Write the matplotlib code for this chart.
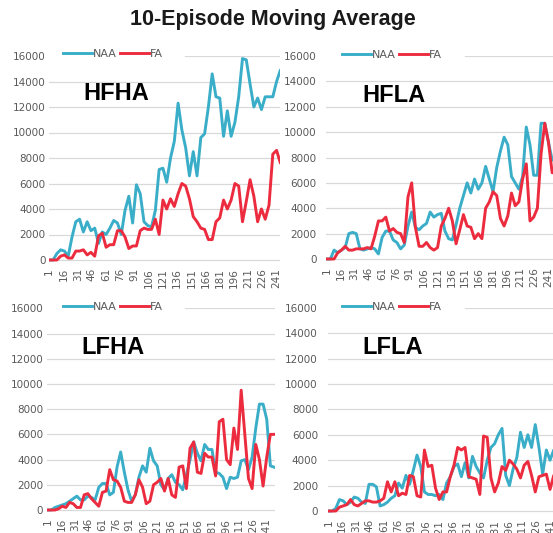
import matplotlib
matplotlib.use('Agg')
import matplotlib.pyplot as plt

# episode positions of the sampled moving-average values
episodes = list(range(1, 250, 4))

hfha_naa = [0, 0, 500, 800, 700, 300, 1800, 3000, 3200, 2200,
            3000, 2300, 2500, 1300, 2200, 2000, 2500, 3100, 2900, 2000,
            3900, 5000, 2900, 5900, 5200, 3000, 2700, 2600, 3900, 7100,
            7200, 6100, 8000, 9300, 12300, 10200, 8800, 6600, 8500, 6600,
            9600, 9900, 12000, 14600, 12800, 12700, 9700, 11700, 9700, 10800,
            12800, 15800, 15700, 13800, 12000, 12700, 11800, 12800, 12800, 12800,
            14000, 14900, 14900]
hfha_fa = [0, 0, 0, 300, 400, 150, 150, 700, 700, 800,
           400, 600, 300, 1900, 2100, 1000, 1200, 1200, 2300, 2300,
           1800, 900, 1100, 1100, 2300, 2500, 2400, 2400, 3200, 2000,
           4700, 4000, 4800, 4200, 5200, 6000, 5800, 4800, 3400, 3000,
           2500, 2400, 1600, 1600, 3000, 3300, 4700, 4000, 4700, 6000,
           5800, 3000, 4600, 6300, 5000, 3000, 4000, 3200, 4300, 8300,
           8600, 7600, 7600]

hfla_naa = [0, 0, 700, 500, 700, 900, 2000, 2100, 2000, 800,
            700, 800, 900, 800, 400, 1700, 2200, 2200, 1500, 1300,
            800, 1100, 2600, 3700, 2500, 2300, 2600, 2800, 3700, 3300,
            3500, 3600, 2200, 1600, 1500, 2700, 4000, 5000, 6000, 5200,
            6300, 5500, 6000, 7300, 6300, 5300, 7200, 8500, 9600, 9000,
            6500, 6000, 5500, 6500, 10400, 9000, 6600, 6600, 10700, 10700,
            9200, 7800, 7800]
hfla_fa = [0, 0, 0, 500, 700, 1000, 700, 700, 800, 800,
           800, 900, 800, 1800, 3000, 3000, 3300, 2200, 2400, 2100,
           2000, 1300, 4900, 6000, 2500, 1000, 1000, 1300, 900, 700,
           900, 2600, 3200, 4000, 3000, 1200, 2300, 3500, 2600, 2500,
           1600, 2000, 1600, 4000, 4500, 5300, 5000, 3200, 2600, 3400,
           5200, 4200, 4500, 6300, 7500, 3000, 3300, 4000, 8300, 10700,
           9200, 6800, 6800]

lfha_naa = [0, 0, 200, 300, 400, 500, 700, 900, 1100, 800,
            800, 1100, 1000, 800, 1800, 2100, 2100, 1200, 1400, 3400,
            4600, 3000, 1600, 700, 1200, 2600, 3500, 3000, 4900, 3900,
            3500, 2000, 1600, 2500, 2800, 2200, 2000, 1600, 2800, 4000,
            5400, 4500, 3900, 5200, 4800, 4800, 3000, 2900, 2600, 1700,
            2600, 2500, 2600, 3900, 4000, 3200, 4200, 6500, 8400, 8400,
            7200, 3500, 3400]
lfha_fa = [0, 0, 0, 100, 300, 200, 600, 500, 200, 200,
           1200, 1300, 900, 600, 300, 1400, 1500, 3200, 2400, 2300,
           1800, 700, 600, 600, 1200, 2400, 1800, 500, 700, 2000,
           2200, 2500, 1500, 2500, 1200, 1000, 3400, 3500, 1700, 4900,
           5400, 3000, 2900, 4500, 4200, 4200, 2700, 7000, 7200, 4000,
           3600, 6500, 4800, 9500, 6000, 2500, 1700, 5200, 4000, 1900,
           4200, 6000, 6000]

lfla_naa = [0, 0, 200, 900, 800, 500, 700, 1100, 1000, 700,
            600, 2100, 2100, 1900, 400, 500, 700, 1000, 1200, 2200,
            1800, 2800, 2100, 3200, 4400, 3500, 1500, 1300, 1300, 1200,
            1300, 900, 2200, 2700, 3500, 3700, 2700, 3800, 2600, 4300,
            3500, 3000, 2600, 4000, 5000, 5300, 6000, 6500, 2800, 2000,
            3300, 4200, 6200, 5000, 6000, 5000, 6800, 5000, 2900, 4800,
            4000, 4800, 4800]
lfla_fa = [0, 0, 0, 300, 400, 500, 900, 500, 400, 600,
           800, 800, 700, 700, 800, 1000, 2300, 1500, 2300, 1200,
           1400, 1300, 2800, 2700, 1200, 1100, 4800, 3500, 3600, 1800,
           900, 1500, 1500, 2700, 3600, 5000, 4800, 5000, 2700, 2600,
           2500, 1300, 5900, 5800, 2600, 1500, 2200, 3500, 3200, 4000,
           3700, 3300, 2600, 3600, 3900, 2800, 1500, 2700, 2800, 2900,
           1700, 2800, 2800]

xticks = list(range(1, 242, 15))
yticks = list(range(0, 16001, 2000))

NAA_COLOR = '#3aaec8'
FA_COLOR = '#ec2c3e'
GRID = '#d9d9d9'
TXT = '#595959'

W, H = 553, 533
fig = plt.figure(figsize=(W / 100, H / 100), dpi=100)

# left px, right px, y(0) px, y(16000) px, xmax, ytick pad, legend (x, y), grid start px, label (x, y)
panels = [
    ('HFHA', hfha_naa, hfha_fa, 48.8, 280, 260, 56, 244.6, 2.2, (63, 54), 185, (83, 94)),
    ('HFLA', hfla_naa, hfla_fa, 326.2, 553, 259, 56, 245.9, 6.8, (342, 55), 465, (362, 95)),
    ('LFHA', lfha_naa, lfha_fa, 47.2, 275.4, 510, 308.3, 250.5, 2.8, (63, 307), 185, (81, 348)),
    ('LFLA', lfla_naa, lfla_fa, 327.9, 553, 511, 307.7, 244.2, 7.2, (342, 307), 465, (362, 348)),
]

ymin = -300
for name, naa, fa, left, right, y0, y16, xmax, pad, leg, gstart, lab in panels:
    bottom = y0 + (-ymin) * (y0 - y16) / 16000
    ax = fig.add_axes([left / W, 1 - bottom / H, (right - left) / W, (bottom - y16) / H])
    ax.set_xlim(0.5, xmax)
    ax.set_ylim(ymin, 16000)
    for s in ax.spines.values():
        s.set_visible(False)
    for v in yticks[:-1]:
        ax.axhline(v, color=GRID, lw=0.9, zorder=0)
    ax.axhline(16000, xmin=(gstart - left) / (right - left), color=GRID, lw=0.9, zorder=0)

    ax.plot(episodes, naa, color=NAA_COLOR, lw=2.1, label='NAA', zorder=3)
    ax.plot(episodes, fa, color=FA_COLOR, lw=2.1, label='FA', zorder=4)

    ax.set_yticks(yticks)
    ax.set_xticks(xticks)
    ax.set_xticklabels([str(t) for t in xticks])
    ax.tick_params(axis='y', length=0, pad=pad, labelsize=7.5, labelcolor=TXT)
    ax.tick_params(axis='x', length=0, pad=3, labelsize=7.5, labelcolor=TXT, labelrotation=90)

    ax.legend(loc='center left', bbox_to_anchor=(leg[0] / W, 1 - leg[1] / H),
              bbox_transform=fig.transFigure, ncol=2, frameon=False,
              fontsize=8, labelcolor=TXT, handlelength=2.6, handletextpad=0.1,
              columnspacing=0.3, borderpad=0, borderaxespad=0)

    fig.text(lab[0] / W, 1 - lab[1] / H, name, fontsize=17, fontweight='bold',
             family=['Liberation Sans', 'DejaVu Sans'], ha='left', va='center', color='black')

fig.text(273 / W, 1 - 19 / H, '10-Episode Moving Average', fontsize=15.5, fontweight='bold',
         family=['Liberation Sans', 'DejaVu Sans'], ha='center', va='center', color='#1a1a1a')

fig.savefig('out.png', dpi=100)
